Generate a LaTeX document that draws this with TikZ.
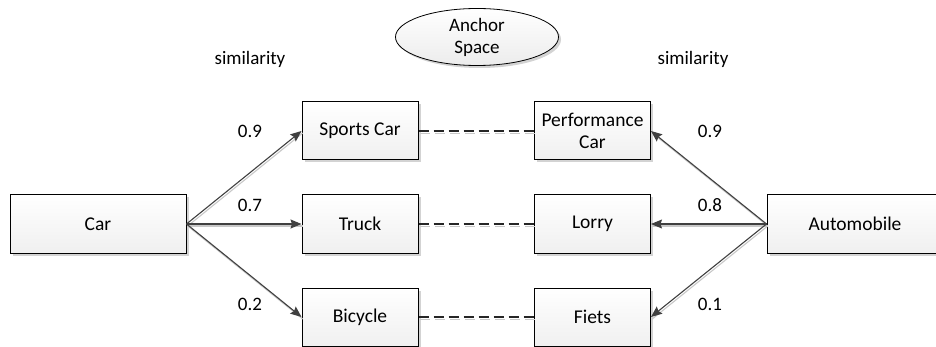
\documentclass[tikz,border=0pt]{standalone}
\usepackage{fontspec}
\setmainfont{Carlito}
\usetikzlibrary{shapes.geometric,shadows,arrows.meta}
\definecolor{linegray}{HTML}{404040}
\definecolor{shadegray}{HTML}{C8C8C8}
\tikzset{
  conceptbox/.style={draw=black, line width=1pt, rectangle, inner sep=0pt,
    top color=white, bottom color=gray!12,
    drop shadow={opacity=0.35, shadow xshift=2.5pt, shadow yshift=-2.5pt},
    font=\fontsize{19.5}{22}\selectfont, align=center},
  smallbox/.style={conceptbox, minimum width=116pt, minimum height=58pt},
  widebox/.style={conceptbox, minimum width=176pt, minimum height=58pt},
  spacebubble/.style={draw=black, line width=0.8pt, ellipse, inner sep=0pt,
    minimum width=163pt, minimum height=57pt,
    top color=white, bottom color=gray!15,
    drop shadow={opacity=0.35, shadow xshift=2.5pt, shadow yshift=-2.5pt},
    font=\fontsize{19}{22}\selectfont, align=center},
  tag/.style={font=\fontsize{19}{22}\selectfont, inner sep=0pt},
  simlink/.style={draw=linegray, line width=1.1pt,
    -{Stealth[length=11pt, width=9pt, inset=1.5pt]}},
  simglow/.style={draw=shadegray, line width=1.1pt,
    transform canvas={shift={(1.2pt,-2pt)}}},
  pairlink/.style={draw=black!85, line width=1.2pt, dash pattern=on 10pt off 5pt},
  pairglow/.style={draw=shadegray, line width=1.4pt, dash pattern=on 10pt off 5pt,
    transform canvas={shift={(1.5pt,-2.5pt)}}},
}
\begin{document}
\begin{tikzpicture}[x=1pt, y=-1pt]
  \useasboundingbox (0,0) rectangle (936,347);
  \begin{scope}
  \clip (0,0) rectangle (936,347);

  % anchor space bubble and column captions
  \node[spacebubble] (anchor) at (477,37) {Anchor\\Space};
  \node[tag] (simL) at (250,59) {similarity};
  \node[tag] (simR) at (693,59) {similarity};

  % source concepts
  \node[widebox] (car) at (98,224) {Car};
  \node[widebox] (auto) at (855,224) {Automobile};

  % anchor concepts, left column
  \node[smallbox] (sports) at (360,131) {Sports Car};
  \node[smallbox] (truck) at (360,224) {Truck};
  \node[smallbox] (bike) at (360,317) {Bicycle};

  % anchor concepts, right column
  \node[smallbox] (perf) at (592.5,131) {Performance\\Car};
  \node[smallbox] (lorry) at (592.5,224) {Lorry};
  \node[smallbox] (fiets) at (592.5,317) {Fiets};

  % correspondences between the two columns
  \foreach \a/\b in {sports/perf, truck/lorry, bike/fiets} {
    \draw[pairglow] (\a.east) -- (\b.west);
    \draw[pairlink] (\a.east) -- (\b.west);
  }

  % similarity arrows
  \foreach \t in {sports, truck, bike} {
    \draw[simglow] (car.east) -- (\t.west);
    \draw[simlink] (car.east) -- (\t.west);
  }
  \foreach \t in {perf, lorry, fiets} {
    \draw[simglow] (auto.west) -- (\t.east);
    \draw[simlink] (auto.west) -- (\t.east);
  }

  % similarity scores
  \node[tag] (s1) at (250,131) {0.9};
  \node[tag] (s2) at (250,205) {0.7};
  \node[tag] (s3) at (250,304) {0.2};
  \node[tag] (s4) at (710,131) {0.9};
  \node[tag] (s5) at (710,205) {0.8};
  \node[tag] (s6) at (710,304) {0.1};
  \end{scope}
\end{tikzpicture}
\end{document}
